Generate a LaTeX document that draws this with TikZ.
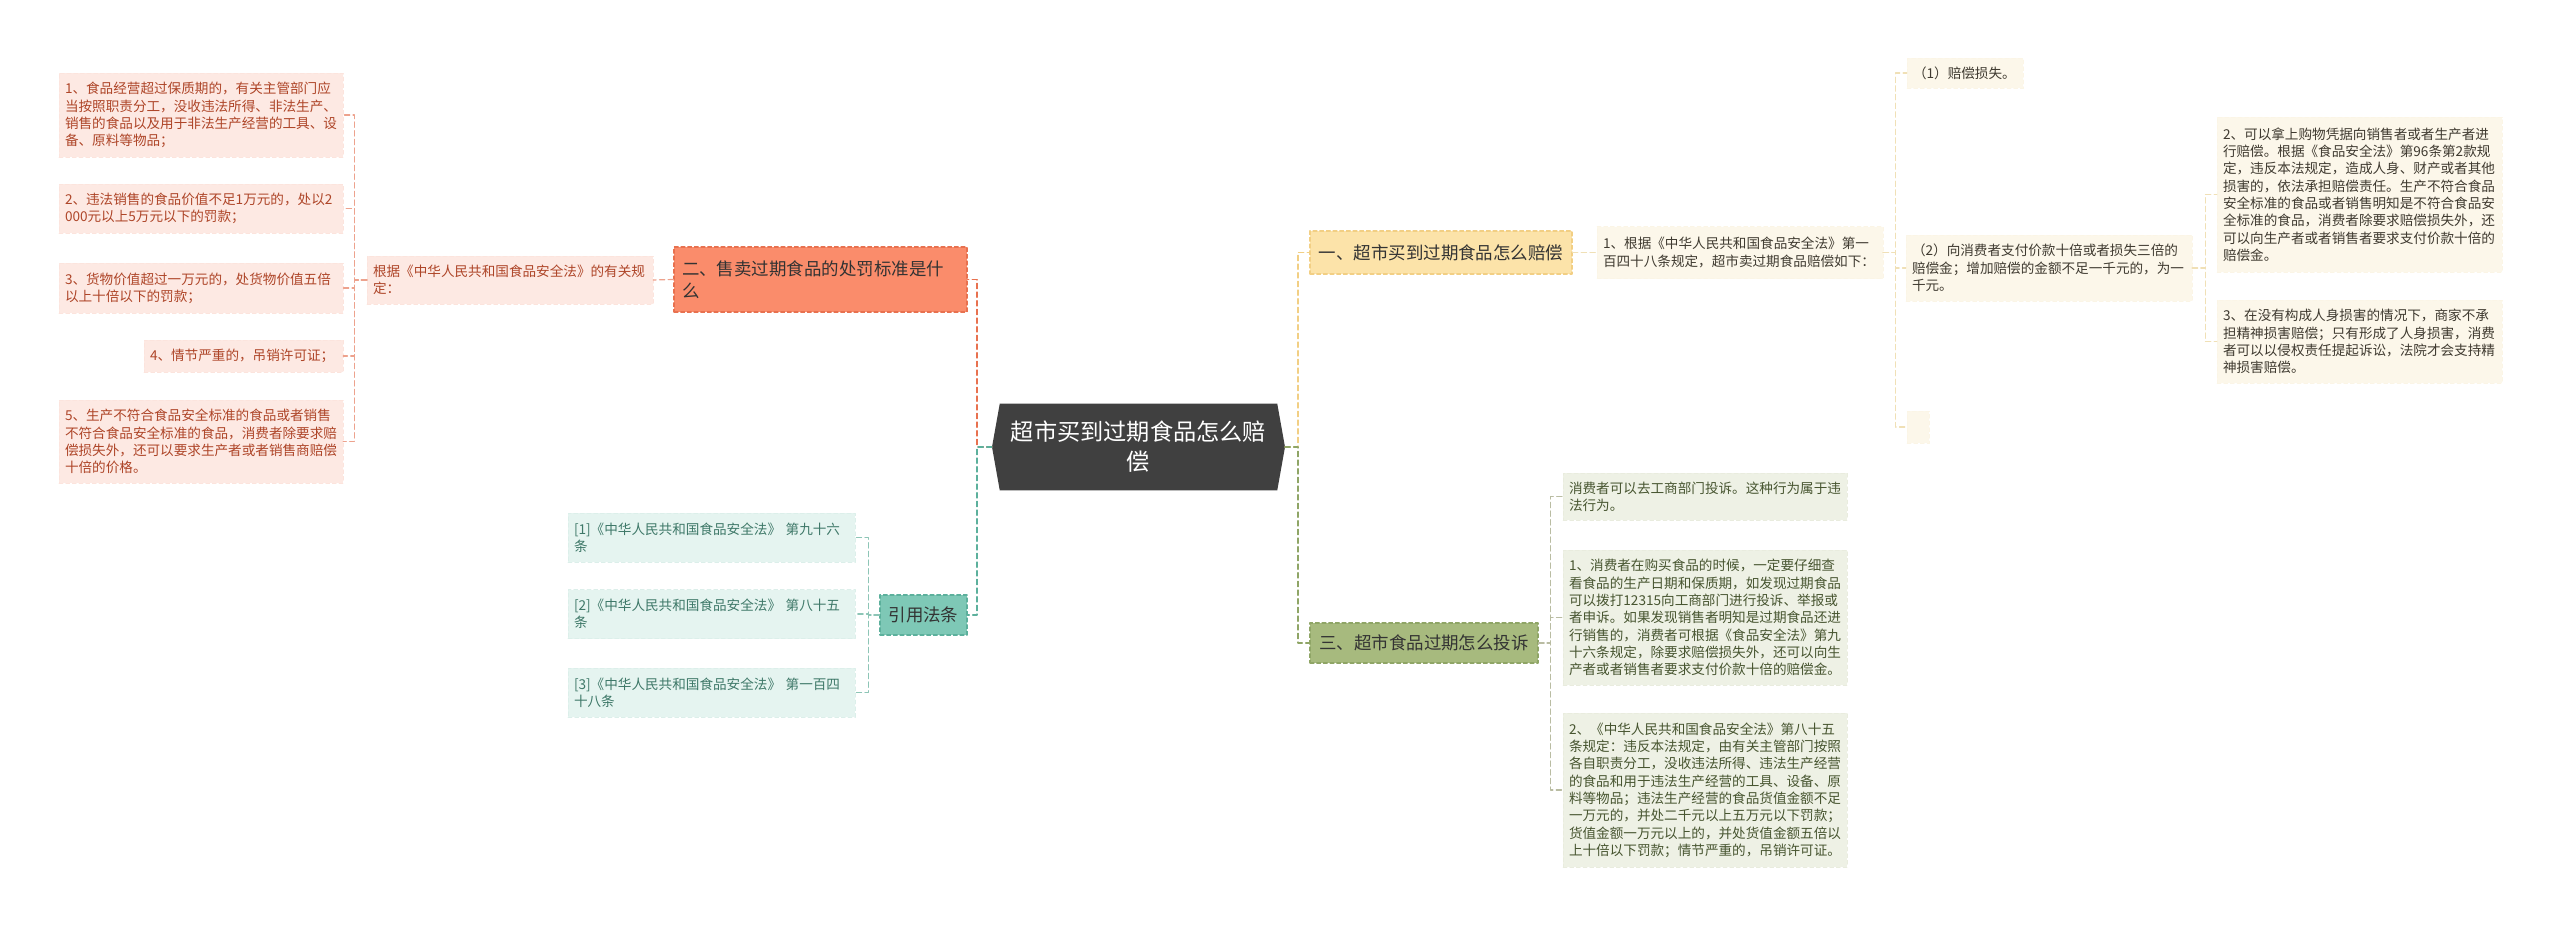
\documentclass[tikz,border=0pt]{standalone}
\usepackage{fontspec}
\usetikzlibrary{backgrounds}
\newfontfamily\cjkfont{Noto Sans CJK SC}
\newcommand{\leaffont}{\cjkfont\fontsize{10.2}{13}\selectfont}
\newcommand{\branchfont}{\cjkfont\fontsize{13.1}{16.5}\selectfont}
\newcommand{\rootfont}{\cjkfont\fontsize{17.4}{22.5}\selectfont}
\definecolor{cdark}{HTML}{404040}
\definecolor{ctext}{HTML}{333333}
\definecolor{csalmon}{HTML}{FA8C6B}
\definecolor{csalmonD}{HTML}{E8714F}
\definecolor{csalmonL}{HTML}{FDE9E3}
\definecolor{csalmonT}{HTML}{AE4528}
\definecolor{csalmonK}{HTML}{EDA28D}
\definecolor{cteal}{HTML}{7EC8B6}
\definecolor{ctealD}{HTML}{5CB09C}
\definecolor{ctealL}{HTML}{E5F4F0}
\definecolor{ctealT}{HTML}{3E7868}
\definecolor{ctealK}{HTML}{8DC5B6}
\definecolor{cyel}{HTML}{FCE3A9}
\definecolor{cyelD}{HTML}{F2CF84}
\definecolor{cyelL}{HTML}{FCF7EA}
\definecolor{cyelT}{HTML}{3F3A30}
\definecolor{cyelK}{HTML}{F0E0B6}
\definecolor{cgreen}{HTML}{A7BA7E}
\definecolor{cgreenD}{HTML}{8FA566}
\definecolor{cgreenL}{HTML}{EEF1E5}
\definecolor{cgreenT}{HTML}{475530}
\definecolor{cgreenK}{HTML}{B9BCA2}

\begin{document}
\begin{tikzpicture}[x=0.75pt, y=-0.75pt, line cap=round, line join=round,
  leaf/.style={font=\leaffont, align=left, inner xsep=4.5pt, inner ysep=0pt,
    dash pattern=on 3pt off 2pt, line width=0.4pt},
  sleaf/.style={leaf, fill=csalmonL, draw=csalmonL!93!csalmonK, text=csalmonT},
  tleaf/.style={leaf, fill=ctealL, draw=ctealL!90!ctealK, text=ctealT},
  yleaf/.style={leaf, fill=cyelL, draw=cyelL!93!cyelK, text=cyelT},
  gleaf/.style={leaf, fill=cgreenL, draw=cgreenL!90!cgreenK, text=cgreenT},
  branch/.style={font=\branchfont, inner xsep=6pt, inner ysep=0pt, text=ctext,
    dash pattern=on 3pt off 2pt, line width=0.8pt},
  link/.style={dash pattern=on 4pt off 2.5pt, line width=0.9pt}]
  \useasboundingbox (0,0) rectangle (2560,925);

  % ---------- centre ----------
  \node[font=\rootfont, text=white, align=center, text width=196.5pt,
    minimum width=207.75pt, minimum height=64.5pt, inner ysep=0pt] (root) at (1138.5,447)
    {超市买到过期食品怎么赔\\偿};
  \coordinate (rootL) at (992,447);
  \coordinate (rootR) at (1285,447);
  \begin{pgfonlayer}{background}
    \fill[cdark] (root.north west) -- (root.north east) -- (rootR)
      -- (root.south east) -- (root.south west) -- (rootL) -- cycle;
  \end{pgfonlayer}

  % ---------- left: penalties ----------
  \node[branch, fill=csalmon, draw=csalmonD, align=left, text width=207.75pt,
    minimum height=48.75pt] (b2) at (820.5,279.5) {二、售卖过期食品的处罚标准是什\\么};
  \node[sleaf, text width=205.5pt, minimum height=36pt] (gen) at (510,280)
    {根据《中华人民共和国食品安全法》的有关规\\定：};
  \node[sleaf, text width=204pt, minimum height=63pt] (l1) at (201,115)
    {1、食品经营超过保质期的，有关主管部门应\\当按照职责分工，没收违法所得、非法生产、\\销售的食品以及用于非法生产经营的工具、设\\备、原料等物品；};
  \node[sleaf, text width=204pt, minimum height=36.75pt] (l2) at (201,208.5)
    {2、违法销售的食品价值不足1万元的，处以2\\000元以上5万元以下的罚款；};
  \node[sleaf, text width=204pt, minimum height=37.5pt] (l3) at (201,288)
    {3、货物价值超过一万元的，处货物价值五倍\\以上十倍以下的罚款；};
  \node[sleaf, text width=140.25pt, minimum height=24pt] (l4) at (243.5,356)
    {4、情节严重的，吊销许可证；};
  \node[sleaf, text width=204pt, minimum height=62.25pt] (l5) at (201,441.5)
    {5、生产不符合食品安全标准的食品或者销售\\不符合食品安全标准的食品，消费者除要求赔\\偿损失外，还可以要求生产者或者销售商赔偿\\十倍的价格。};

  % ---------- left: cited articles ----------
  \node[branch, fill=cteal, draw=ctealD, align=center, text width=53.25pt,
    minimum height=30pt] (cite) at (923.5,615) {引用法条};
  \node[tleaf, text width=206.25pt, minimum height=36.75pt] (c1) at (711.5,537.5)
    {[1]《中华人民共和国食品安全法》 第九十六\\条};
  \node[tleaf, text width=206.25pt, minimum height=36.75pt] (c2) at (711.5,614)
    {[2]《中华人民共和国食品安全法》 第八十五\\条};
  \node[tleaf, text width=206.25pt, minimum height=36.75pt] (c3) at (711.5,692.5)
    {[3]《中华人民共和国食品安全法》 第一百四\\十八条};

  % ---------- right: compensation ----------
  \node[branch, fill=cyel, draw=cyelD, align=center, text width=184.5pt,
    minimum height=32.25pt] (b1) at (1441,252.5) {一、超市买到过期食品怎么赔偿};
  \node[yleaf, text width=205.5pt, minimum height=39pt] (a1) at (1740,252.5)
    {1、根据《中华人民共和国食品安全法》第一\\百四十八条规定，超市卖过期食品赔偿如下：};
  \node[yleaf, text width=78pt, minimum height=22.5pt] (p1) at (1965,73) {（1）赔偿损失。};
  \node[yleaf, text width=205.5pt, minimum height=49.5pt] (p2) at (2049,268)
    {（2）向消费者支付价款十倍或者损失三倍的\\赔偿金；增加赔偿的金额不足一千元的，为一\\千元。};
  \node[yleaf, text width=7.5pt, minimum height=24pt] (p3) at (1918,427) {};
  \node[yleaf, text width=204.75pt, minimum height=116.25pt] (q2) at (2359.5,194.5)
    {2、可以拿上购物凭据向销售者或者生产者进\\行赔偿。根据《食品安全法》第96条第2款规\\定，违反本法规定，造成人身、财产或者其他\\损害的，依法承担赔偿责任。生产不符合食品\\安全标准的食品或者销售明知是不符合食品安\\全标准的食品，消费者除要求赔偿损失外，还\\可以向生产者或者销售者要求支付价款十倍的\\赔偿金。};
  \node[yleaf, text width=204.75pt, minimum height=62.25pt] (q3) at (2359.5,341.5)
    {3、在没有构成人身损害的情况下，商家不承\\担精神损害赔偿；只有形成了人身损害，消费\\者可以以侵权责任提起诉讼，法院才会支持精\\神损害赔偿。};

  % ---------- right: complaints ----------
  \node[branch, fill=cgreen, draw=cgreenD, align=center, text width=159pt,
    minimum height=30pt] (b3) at (1424,643) {三、超市食品过期怎么投诉};
  \node[gleaf, text width=204pt, minimum height=35.25pt] (g1) at (1705,496.5)
    {消费者可以去工商部门投诉。这种行为属于违\\法行为。};
  \node[gleaf, text width=204pt, minimum height=101.25pt] (g2) at (1705,617.5)
    {1、消费者在购买食品的时候，一定要仔细查\\看食品的生产日期和保质期，如发现过期食品\\可以拨打12315向工商部门进行投诉、举报或\\者申诉。如果发现销售者明知是过期食品还进\\行销售的，消费者可根据《食品安全法》第九\\十六条规定，除要求赔偿损失外，还可以向生\\产者或者销售者要求支付价款十倍的赔偿金。};
  \node[gleaf, text width=204pt, minimum height=115.5pt] (g3) at (1705,790)
    {2、《中华人民共和国食品安全法》第八十五\\条规定：违反本法规定，由有关主管部门按照\\各自职责分工，没收违法所得、违法生产经营\\的食品和用于违法生产经营的工具、设备、原\\料等物品；违法生产经营的食品货值金额不足\\一万元的，并处二千元以上五万元以下罚款；\\货值金额一万元以上的，并处货值金额五倍以\\上十倍以下罚款；情节严重的，吊销许可证。};

  % ---------- connectors ----------
  \draw[link, csalmonD] (rootL) -- ++(-15,0) |- (b2.east);
  \draw[link, ctealD] (rootL) -- ++(-15,0) |- (cite.east);
  \draw[link, cyelD] (rootR) -- ++(13,0) |- (b1.west);
  \draw[link, cgreenD] (rootR) -- ++(13,0) |- (b3.west);

  \draw[link, csalmonK] (b2.west) -- (gen.east);
  \foreach \n in {l1,l2,l3,l4,l5}
    \draw[link, csalmonK] (gen.west) -- ++(-12,0) |- (\n.east);
  \foreach \n in {c1,c2,c3}
    \draw[link, ctealK] (cite.west) -- ++(-11,0) |- (\n.east);
  \draw[link, cyelK] (b1.east) -- (a1.west);
  \foreach \n in {p1,p2,p3}
    \draw[link, cyelK] (a1.east) -- ++(12,0) |- (\n.west);
  \foreach \n in {q2,q3}
    \draw[link, cyelK] (p2.east) -- ++(13,0) |- (\n.west);
  \foreach \n in {g1,g2,g3}
    \draw[link, cgreenK] (b3.east) -- ++(12,0) |- (\n.west);
\end{tikzpicture}
\end{document}
